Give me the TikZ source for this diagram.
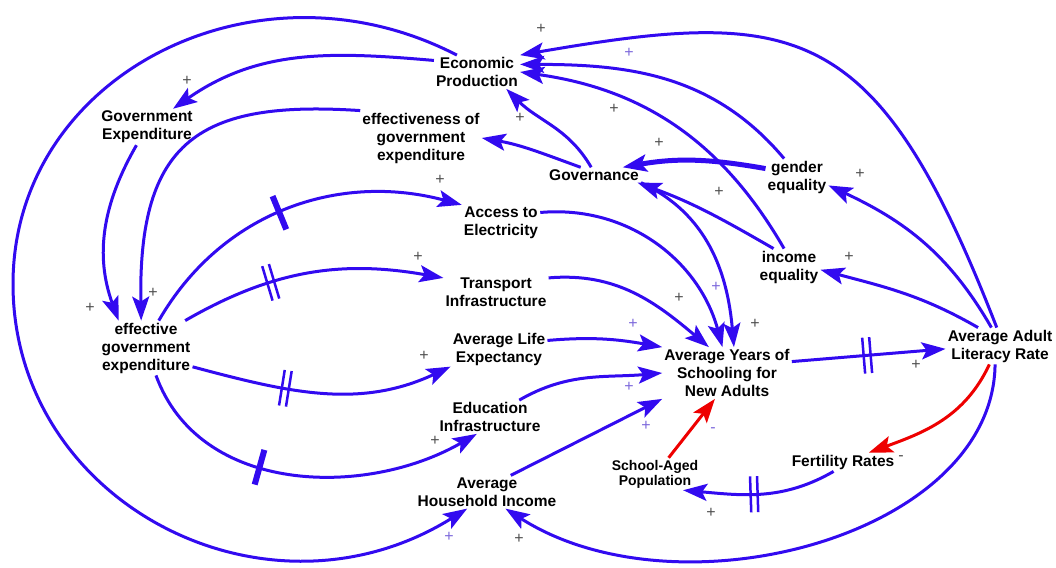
\documentclass[tikz,border=0pt]{standalone}
\usepackage{fontspec}
\setmainfont{Liberation Sans}
\usepackage{tikz}
\usetikzlibrary{
    arrows.meta,          % 箭头样式
    decorations.markings  % 延迟标记
}

\definecolor{linkblue}{RGB}{50,10,240}
\definecolor{linkred}{RGB}{238,0,0}
\definecolor{signgray}{RGB}{80,80,80}
\definecolor{signpurple}{RGB}{125,105,220}

\begin{document}
\begin{tikzpicture}[
    x=1pt, y=-1pt,
    >={Stealth[length=24pt,width=17pt,inset=5pt]},
    var/.style={font=\bfseries\fontsize{15.5}{18}\selectfont, align=center, inner sep=2pt},
    smallvar/.style={font=\bfseries\fontsize{14}{15}\selectfont, align=center, inner sep=2pt},
    link/.style={->, draw=linkblue, line width=3pt},
    neg/.style={->, draw=linkred, line width=3pt},
    sign/.style={font=\fontsize{16}{16}\selectfont, text=signgray, inner sep=0pt},
    psign/.style={sign, text=signpurple},
    onebar/.style={postaction={decorate}, decoration={markings,
        mark=at position #1 with {\draw[-, draw=linkblue, line width=6pt] (0,-18) -- (0,18);}}},
    twobar/.style={postaction={decorate}, decoration={markings,
        mark=at position #1 with {\draw[-, draw=linkblue, line width=2.5pt] (-3.5,-18) -- (-3.5,18) (3.5,-18) -- (3.5,18);}}}
]
    \useasboundingbox (0,0) rectangle (1056,567);
    \fill[white] (0,0) rectangle (1056,567);

    % 变量
    \node[var] (EP) at (477,72) {Economic\\Production};
    \node[var] (GE) at (147,127) {Government\\Expenditure};
    \node[var] (EFF) at (421,138) {effectiveness of\\government\\expenditure};
    \node[var] (GOV) at (594,175) {Governance};
    \node[var] (GEQ) at (797,177) {gender\\equality};
    \node[var] (AE) at (501,223) {Access to\\Electricity};
    \node[var] (IEQ) at (789,267) {income\\equality};
    \node[var] (TI) at (496,292) {Transport\\Infrastructure};
    \node[var] (EGE) at (146,348) {effective\\government\\expenditure};
    \node[var] (ALE) at (499,349) {Average Life\\Expectancy};
    \node[var] (AYS) at (727,373) {Average Years of\\Schooling for\\New Adults};
    \node[var] (AALR) at (1000,346) {Average Adult\\Literacy Rate};
    \node[var] (EI) at (490,417) {Education\\Infrastructure};
    \node[smallvar] (SAP) at (655,474) {School-Aged\\Population};
    \node[var] (FR) at (843,462) {Fertility Rates};
    \node[var] (AHI) at (487,492) {Average\\Household Income};

    % 经济生产
    \draw[link] (EP.165) to[out=175,in=35] (GE.35);
    \draw[link] (EP.140) .. controls (256,-49) and (13,75) .. (13,284)
        .. controls (13,503) and (266,634) .. (AHI.-140);
    \draw[link] (GE.-120) to[out=-120,in=110] (EGE.135);
    \draw[link] (EFF.north west) .. controls (200,100) and (138,140) .. (EGE.100);
    \draw[link] (GOV.150) to[out=160,in=-10] (EFF.east);
    \draw[link] (GOV.110) to[out=120,in=-45] (EP.-30);
    \draw[link] (AALR.100) .. controls (877,19) and (798,7) .. (EP.north east);
    \draw[link] (GEQ.125) to[out=130,in=0] (EP.10);
    \draw[link] (IEQ.105) to[out=120,in=-8] (EP.east);

    % 治理
    \draw[link, line width=5pt] (GEQ.165) to[out=170,in=10] (GOV.15);
    \draw[link] (IEQ.130) to[out=150,in=-20] (GOV.-10);
    \draw[link] (GOV.south east) to[out=-25,in=95] (AYS.75);

    % 受教育年限
    \draw[link] (AE.15) to[out=5,in=105] (AYS.100);
    \draw[link] (TI.15) to[out=5,in=140] (AYS.125);
    \draw[link] (ALE.10) to[out=5,in=170] (AYS.north west);
    \draw[link] (EI.30) to[out=30,in=185] (AYS.west);
    \draw[link] (AHI.35) -- (AYS.south west);
    \draw[neg] (SAP.50) -- (AYS.-115);
    \draw[link, twobar=0.49] (AYS.10) -- (AALR.183);

    % 识字率
    \draw[link] (AALR.140) to[out=150,in=-15] (IEQ.-5);
    \draw[link] (AALR.115) to[out=120,in=-25] (GEQ.-15);
    \draw[neg] (AALR.-120) to[out=-115,in=20] (FR.20);
    \draw[link] (AALR.-105) .. controls (993,536) and (678,619) .. (AHI.-42);
    \draw[link, twobar=0.54] (FR.-135) to[out=-150,in=-5] (SAP.-30);

    % 有效政府支出
    \draw[link, onebar=0.47] (EGE.65) to[out=60,in=165] (AE.north west);
    \draw[link, twobar=0.35] (EGE.35) to[out=30,in=170] (TI.165);
    \draw[link, twobar=0.36] (EGE.-22) to[out=-15,in=-155] (ALE.200);
    \draw[link, onebar=0.39] (EGE.-70) to[out=-70,in=-150] (EI.-128);

    % 极性符号
    \foreach \px/\py [count=\i] in {541/29, 187/81, 614/109, 520/118, 659/143,
        860/174, 719/192, 440/180, 153/293, 90/308, 418/257, 849/257, 679/298,
        755/324, 424/356, 916/365, 435/441, 519/539, 711/513}
        \node[sign] (s\i) at (\px,\py) {+};
    \foreach \px/\py [count=\i] in {629/53, 716/287, 633/324, 629/387, 646/426, 449/537}
        \node[psign] (p\i) at (\px,\py) {+};
    \node[psign] (m1) at (713,430) {-};
    \node[sign] (m2) at (901,458) {-};
\end{tikzpicture}
\end{document}
